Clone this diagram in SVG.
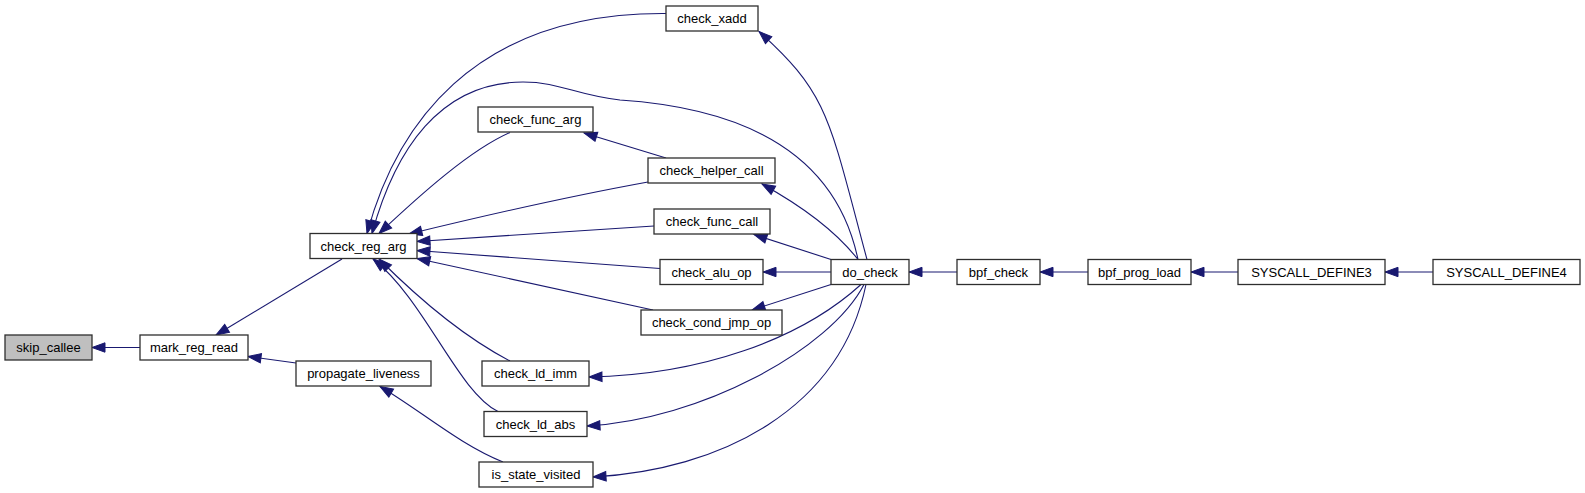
<svg xmlns="http://www.w3.org/2000/svg" width="1585" height="493" viewBox="0 0 1585 493">
<defs>
<style>
.node rect{fill:#ffffff;stroke:#2e2e2e;stroke-width:1.3}
.node.hl rect{fill:#bfbfbf}
.node text{font-family:"Liberation Sans",Arial,sans-serif;font-size:13px;fill:#000000;text-anchor:middle}
.edges path{fill:none;stroke:#191970;stroke-width:1.1;marker-start:url(#arr)}
</style>
<marker id="arr" markerUnits="userSpaceOnUse" markerWidth="16" markerHeight="12" viewBox="-1 -6 15 12" refX="13" refY="0" orient="auto-start-reverse" overflow="visible">
<path d="M0,-4.7 L13,0 L0,4.7 Z" fill="#191970" stroke="#191970" stroke-width="1"/>
</marker>
</defs>
<rect width="1585" height="493" fill="#ffffff"/>
<g class="edges" id="edges">
<path d="M92,347.5 H140"/>
<path d="M216,335 L342,259"/>
<path d="M248,356.5 L296,363"/>
<path d="M367,233.5 C395,130 470,12 666,13.5"/>
<path d="M372,233.5 C395,150 440,82 523,82 C560,82 575,95 620,100 C740,108 835,150 858,259.5"/>
<path d="M379,233.5 C420,195 470,150 510,132.5"/>
<path d="M409,234 C450,224 560,198 648,182"/>
<path d="M417,241.5 L654,226"/>
<path d="M417,250.5 L660,268.5"/>
<path d="M417,258.5 L653,310"/>
<path d="M379,259 C410,290 460,335 510,361"/>
<path d="M373,259 C425,300 458,392 498,411.5"/>
<path d="M380,386.5 C420,410 460,445 503,462"/>
<path d="M584,133 L666,158"/>
<path d="M759,31.5 C829,94.5 829,118 867,259.5"/>
<path d="M762,184 C800,205 835,230 858,259.5"/>
<path d="M754,234.5 L831,259.5"/>
<path d="M763,272 H831"/>
<path d="M752,310 L831,284.5"/>
<path d="M589,377 C700,375 800,340 861,284.5"/>
<path d="M587,426 C700,420 830,350 864,284.5"/>
<path d="M593,477 C720,470 840,410 866,284.5"/>
<path d="M909,272 H957"/>
<path d="M1040,272 H1088"/>
<path d="M1191,272 H1238"/>
<path d="M1385,272 H1433"/>
</g>
<g class="node hl" id="skip_callee"><rect x="5" y="335" width="87" height="25"/><text x="48.5" y="352">skip_callee</text></g>
<g class="node" id="mark_reg_read"><rect x="140" y="335" width="108" height="25"/><text x="194" y="352">mark_reg_read</text></g>
<g class="node" id="check_reg_arg"><rect x="310" y="233.5" width="107" height="25"/><text x="363.5" y="250.5">check_reg_arg</text></g>
<g class="node" id="propagate_liveness"><rect x="296" y="361" width="135" height="25"/><text x="363.5" y="378">propagate_liveness</text></g>
<g class="node" id="check_xadd"><rect x="666" y="6" width="92" height="25"/><text x="712" y="23">check_xadd</text></g>
<g class="node" id="check_func_arg"><rect x="478" y="107" width="115" height="25"/><text x="535.5" y="124">check_func_arg</text></g>
<g class="node" id="check_helper_call"><rect x="648" y="158" width="127" height="25"/><text x="711.5" y="175">check_helper_call</text></g>
<g class="node" id="check_func_call"><rect x="654" y="209" width="116" height="25"/><text x="712" y="226">check_func_call</text></g>
<g class="node" id="check_alu_op"><rect x="660" y="259.5" width="103" height="25"/><text x="711.5" y="276.5">check_alu_op</text></g>
<g class="node" id="check_cond_jmp_op"><rect x="641" y="310" width="141" height="25"/><text x="711.5" y="327">check_cond_jmp_op</text></g>
<g class="node" id="check_ld_imm"><rect x="482" y="361" width="107" height="25"/><text x="535.5" y="378">check_ld_imm</text></g>
<g class="node" id="check_ld_abs"><rect x="484" y="411.5" width="103" height="25"/><text x="535.5" y="428.5">check_ld_abs</text></g>
<g class="node" id="is_state_visited"><rect x="479" y="462" width="114" height="25"/><text x="536" y="479">is_state_visited</text></g>
<g class="node" id="do_check"><rect x="831" y="259.5" width="78" height="25"/><text x="870" y="276.5">do_check</text></g>
<g class="node" id="bpf_check"><rect x="957" y="259.5" width="83" height="25"/><text x="998.5" y="276.5">bpf_check</text></g>
<g class="node" id="bpf_prog_load"><rect x="1088" y="259.5" width="103" height="25"/><text x="1139.5" y="276.5">bpf_prog_load</text></g>
<g class="node" id="SYSCALL_DEFINE3"><rect x="1238" y="259.5" width="147" height="25"/><text x="1311.5" y="276.5">SYSCALL_DEFINE3</text></g>
<g class="node" id="SYSCALL_DEFINE4"><rect x="1433" y="259.5" width="147" height="25"/><text x="1506.5" y="276.5">SYSCALL_DEFINE4</text></g>
</svg>
